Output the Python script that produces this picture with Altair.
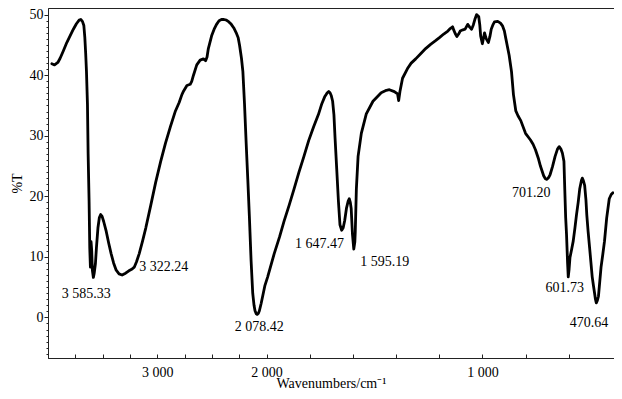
import altair as alt
import pandas as pd

# ---- spectrum trace (wavenumber cm-1, %T) ----
wavenumber = [
    3965, 3940, 3910, 3889, 3860, 3828, 3798, 3768, 3740, 3715, 3700, 3685, 3672, 3663, 3655,
    3648, 3639, 3633, 3624, 3618, 3612, 3606, 3600, 3594, 3585, 3578, 3566, 3557, 3543, 3530,
    3518, 3505, 3490, 3467, 3445, 3422, 3400, 3376, 3350, 3322, 3290, 3260, 3230, 3211, 3190,
    3166, 3135, 3105, 3060, 3015, 2970, 2925, 2880, 2834, 2800, 2775, 2759, 2729, 2699, 2685,
    2669, 2639, 2608, 2578, 2558, 2545, 2533, 2503, 2480, 2458, 2435, 2413, 2390, 2368, 2345,
    2323, 2300, 2278, 2260, 2247, 2230, 2217, 2202, 2187, 2172, 2157, 2142, 2127, 2115, 2106,
    2095, 2085, 2075, 2066, 2050, 2036, 2015, 1995, 1965, 1940, 1919, 1895, 1873, 1850, 1827,
    1805, 1782, 1760, 1744, 1730, 1721, 1712, 1706, 1700, 1694, 1688, 1683, 1675, 1667, 1660,
    1652, 1645, 1638, 1630, 1622, 1617, 1612, 1608, 1602, 1596, 1591, 1589, 1584, 1576, 1561,
    1538, 1507, 1469, 1445, 1431, 1408, 1393, 1388, 1382, 1370, 1347, 1330, 1309, 1285, 1263,
    1240, 1217, 1199, 1179, 1160, 1149, 1138, 1132, 1126, 1118, 1110, 1103, 1090, 1080, 1068,
    1058, 1050, 1042, 1035, 1027, 1017, 1012, 1008, 1000, 990, 982, 972, 965, 959, 950,
    944, 929, 916, 906, 898, 891, 876, 865, 856, 845, 835, 822, 800, 777, 765,
    754, 740, 731, 716, 708, 701, 693, 686, 675, 663, 652, 644, 636, 629, 622,
    618, 614, 610, 605, 602, 598, 594, 586, 579, 571, 564, 556, 549, 541, 537,
    532, 526, 520, 516, 510, 503, 497, 491, 485, 480, 476, 472, 467, 462, 456,
    450, 442, 434, 424, 412, 403, 395,
]
transmittance = [
    41.9, 41.7, 42.1, 42.8, 44.0, 45.4, 46.5, 47.6, 48.5, 49.1, 49.2, 48.9, 48.2, 46.2, 43.5,
    40.6, 35.2, 27.1, 19.1, 11.5, 8.3, 12.5, 11.0, 7.8, 6.6, 7.2, 8.9, 11.5, 14.8, 16.5,
    17.0, 16.7, 15.8, 14.2, 12.3, 10.5, 9.0, 7.8, 7.2, 7.0, 7.3, 7.7, 8.0, 8.3, 9.2,
    10.5, 12.6, 14.8, 18.5, 22.3, 25.7, 28.8, 31.5, 34.1, 35.5, 36.8, 37.4, 38.3, 38.5, 39.0,
    40.0, 41.7, 42.5, 42.7, 42.4, 43.0, 44.4, 46.5, 47.6, 48.4, 49.0, 49.2, 49.2, 49.1, 48.8,
    48.4, 47.8, 47.0, 46.2, 44.9, 42.8, 40.6, 35.2, 28.8, 22.8, 16.4, 9.4, 4.0, 2.0, 1.1,
    0.6, 0.5, 0.7, 1.1, 2.3, 3.5, 5.3, 6.7, 10.5, 13.3, 15.9, 18.6, 21.2, 24.0, 26.6,
    29.2, 31.5, 33.5, 35.3, 36.5, 37.0, 37.3, 37.1, 36.6, 35.7, 33.5, 29.8, 24.5, 19.1, 15.3,
    14.4, 14.8, 16.0, 18.0, 19.2, 19.6, 19.0, 18.0, 13.7, 11.3, 12.5, 14.2, 21.2, 26.6, 30.4,
    33.6, 35.7, 37.1, 37.5, 37.6, 37.3, 36.9, 35.8, 37.3, 39.5, 41.1, 42.0, 42.7, 43.6, 44.4,
    45.1, 45.7, 46.2, 46.8, 47.3, 47.7, 48.0, 47.4, 46.9, 46.4, 46.8, 47.3, 47.5, 47.6, 48.4,
    47.9, 47.6, 48.3, 49.2, 50.0, 49.7, 48.3, 46.5, 45.2, 47.0, 46.0, 45.4, 46.4, 47.6, 48.4,
    48.8, 48.9, 48.6, 48.1, 47.3, 46.0, 43.3, 40.6, 36.8, 34.1, 33.3, 32.5, 30.4, 29.3, 28.6,
    27.7, 26.2, 25.0, 23.4, 22.9, 22.8, 23.1, 23.6, 24.9, 26.6, 27.8, 28.2, 27.8, 27.1, 25.8,
    21.0, 16.5, 13.7, 8.9, 6.7, 8.0, 9.9, 11.3, 12.6, 14.8, 16.9, 19.0, 21.2, 22.6, 23.0,
    22.6, 21.8, 19.4, 16.9, 14.2, 11.5, 9.1, 6.7, 5.2, 4.0, 3.0, 2.4, 2.8, 3.5, 5.9,
    8.3, 10.4, 12.6, 16.4, 19.6, 20.3, 20.6,
]

# ---- peak annotations ----
peak_labels = ["3 585.33", "3 322.24", "2 078.42", "1 647.47", "1 595.19", "701.20", "601.73", "470.64"]
label_wn = [3649, 2940, 2068, 1755, 1453, 773, 618, 506]
label_t = [3.8, 8.3, -1.6, 12.1, 9.2, 20.5, 4.9, -0.9]

# ---- axis ticks ----
x_major = [3000, 2000, 1000]
x_minor = [3750, 3500, 3250, 3000, 2750, 2500, 2250, 2000, 1800, 1600, 1400, 1200, 1000, 800, 600]
y_major = [0, 10, 20, 30, 40, 50]
y_minor = list(range(-6, 51))

spec_df = pd.DataFrame({"wn": wavenumber, "T": transmittance})
lab_df = pd.DataFrame({"wn": label_wn, "T": label_t, "label": peak_labels})

FONT = "Liberation Serif"
W, H = 566, 350

x_scale = alt.Scale(domain=[4000, 2000, 390], range=[0, 218.6, W], nice=False, zero=False)
y_scale = alt.Scale(domain=[-6.7, 51.1], nice=False, zero=False)

# main axes: domain lines + labels
x_axis_main = alt.Axis(
    orient="bottom",
    values=x_major,
    labelExpr="replace(format(datum.value, ','), ',', ' ')",
    ticks=False,
    labelPadding=7,
    grid=False,
    title="Wavenumbers/cm\u207b\u00b9",
    titleBaseline="bottom",
    titleY=32,
)
y_axis_main = alt.Axis(
    orient="left",
    values=y_major,
    tickSize=4,
    labelPadding=1,
    grid=False,
    title="%T",
    titleAngle=-90,
    titleBaseline="middle",
    titleX=-31,
    titleY=H / 2,
)
# tick-only axes
x_axis_ticks = alt.Axis(
    orient="bottom", values=x_minor, labels=False, domain=False,
    tickSize=4, offset=-4, grid=False, title=None,
)
y_axis_ticks = alt.Axis(
    orient="left", values=y_minor, labels=False, domain=False,
    tickSize=2, grid=False, title=None,
)

line = alt.Chart(spec_df).mark_line(
    color="black", strokeWidth=2.8, strokeJoin="round", strokeCap="round"
).encode(
    x=alt.X("wn:Q", scale=x_scale, axis=x_axis_main),
    y=alt.Y("T:Q", scale=y_scale, axis=y_axis_main),
    order=alt.Order("index:Q"),
).transform_window(index="row_number()")

tick_layer = alt.Chart(spec_df).mark_point(opacity=0).encode(
    x=alt.X("wn:Q", scale=x_scale, axis=x_axis_ticks),
    y=alt.Y("T:Q", scale=y_scale, axis=y_axis_ticks),
)

labels = alt.Chart(lab_df).mark_text(
    font=FONT, fontSize=14, color="black", align="center", baseline="middle"
).encode(
    x=alt.X("wn:Q", scale=x_scale, axis=None),
    y=alt.Y("T:Q", scale=y_scale, axis=None),
    text="label:N",
)

chart = alt.layer(line, tick_layer, labels).resolve_axis(
    x="independent", y="independent"
).properties(
    width=W, height=H,
    autosize=alt.AutoSizeParams(type="none"),
    padding={"left": 40, "top": 0, "right": 0, "bottom": 33},
).configure_view(
    stroke="#222", strokeWidth=1
).configure_axis(
    labelFont=FONT, titleFont=FONT, labelFontSize=14, titleFontSize=14,
    titleFontWeight="normal", labelColor="black", titleColor="black",
    domainColor="#222", tickColor="#222", domainWidth=1, tickWidth=1,
).configure_axisY(
    labelAlign="right"
)

chart.save("out.html", embed_options={"renderer": "svg", "actions": False})
